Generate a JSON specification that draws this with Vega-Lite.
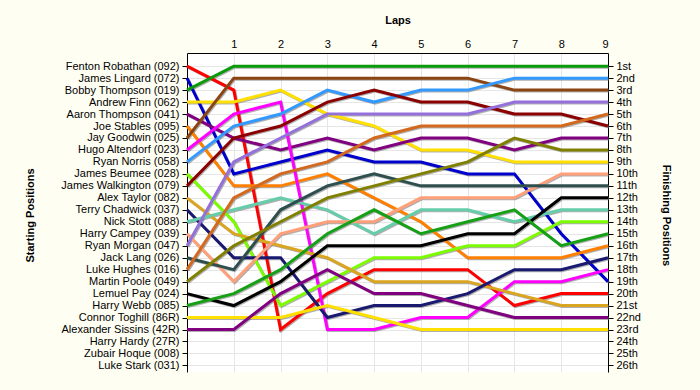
{
  "$schema": "https://vega.github.io/schema/vega-lite/v6.json",
  "width": 421,
  "height": 319,
  "autosize": {"type": "none"},
  "padding": {"left": 187, "top": 53, "right": 92, "bottom": 18},
  "background": "#fffef3",
  "view": {"fill": "white", "stroke": null},
  "config": {
    "font": "Liberation Sans",
    "axis": {"labelFont": "Liberation Sans", "labelFontSize": 11, "labelColor": "#000000", "titleFont": "Liberation Sans", "titleFontSize": 11, "titleFontWeight": "bold", "titleColor": "#000000", "domainColor": "#000000", "tickColor": "#000000", "gridColor": "#e6e6e6"}
  },
  "data": {"values": [
    {"driver":"Fenton Robathan (092)","lap":0,"pos":1},{"driver":"Fenton Robathan (092)","lap":1,"pos":3},{"driver":"Fenton Robathan (092)","lap":2,"pos":23},{"driver":"Fenton Robathan (092)","lap":3,"pos":20},{"driver":"Fenton Robathan (092)","lap":4,"pos":18},{"driver":"Fenton Robathan (092)","lap":5,"pos":18},{"driver":"Fenton Robathan (092)","lap":6,"pos":18},{"driver":"Fenton Robathan (092)","lap":7,"pos":21},{"driver":"Fenton Robathan (092)","lap":8,"pos":20},{"driver":"Fenton Robathan (092)","lap":9,"pos":20},
    {"driver":"James Lingard (072)","lap":0,"pos":2},{"driver":"James Lingard (072)","lap":1,"pos":10},{"driver":"James Lingard (072)","lap":2,"pos":9},{"driver":"James Lingard (072)","lap":3,"pos":8},{"driver":"James Lingard (072)","lap":4,"pos":9},{"driver":"James Lingard (072)","lap":5,"pos":9},{"driver":"James Lingard (072)","lap":6,"pos":10},{"driver":"James Lingard (072)","lap":7,"pos":10},{"driver":"James Lingard (072)","lap":8,"pos":15},{"driver":"James Lingard (072)","lap":9,"pos":19},
    {"driver":"Bobby Thompson (019)","lap":0,"pos":3},{"driver":"Bobby Thompson (019)","lap":1,"pos":1},{"driver":"Bobby Thompson (019)","lap":2,"pos":1},{"driver":"Bobby Thompson (019)","lap":3,"pos":1},{"driver":"Bobby Thompson (019)","lap":4,"pos":1},{"driver":"Bobby Thompson (019)","lap":5,"pos":1},{"driver":"Bobby Thompson (019)","lap":6,"pos":1},{"driver":"Bobby Thompson (019)","lap":7,"pos":1},{"driver":"Bobby Thompson (019)","lap":8,"pos":1},{"driver":"Bobby Thompson (019)","lap":9,"pos":1},
    {"driver":"Andrew Finn (062)","lap":0,"pos":4},{"driver":"Andrew Finn (062)","lap":1,"pos":4},{"driver":"Andrew Finn (062)","lap":2,"pos":3},{"driver":"Andrew Finn (062)","lap":3,"pos":5},{"driver":"Andrew Finn (062)","lap":4,"pos":6},{"driver":"Andrew Finn (062)","lap":5,"pos":8},{"driver":"Andrew Finn (062)","lap":6,"pos":8},{"driver":"Andrew Finn (062)","lap":7,"pos":9},{"driver":"Andrew Finn (062)","lap":8,"pos":9},{"driver":"Andrew Finn (062)","lap":9,"pos":9},
    {"driver":"Aaron Thompson (041)","lap":0,"pos":5},{"driver":"Aaron Thompson (041)","lap":1,"pos":7},{"driver":"Aaron Thompson (041)","lap":2,"pos":8},{"driver":"Aaron Thompson (041)","lap":3,"pos":7},{"driver":"Aaron Thompson (041)","lap":4,"pos":8},{"driver":"Aaron Thompson (041)","lap":5,"pos":7},{"driver":"Aaron Thompson (041)","lap":6,"pos":7},{"driver":"Aaron Thompson (041)","lap":7,"pos":8},{"driver":"Aaron Thompson (041)","lap":8,"pos":7},{"driver":"Aaron Thompson (041)","lap":9,"pos":7},
    {"driver":"Joe Stables (095)","lap":0,"pos":6},{"driver":"Joe Stables (095)","lap":1,"pos":11},{"driver":"Joe Stables (095)","lap":2,"pos":11},{"driver":"Joe Stables (095)","lap":3,"pos":10},{"driver":"Joe Stables (095)","lap":4,"pos":12},{"driver":"Joe Stables (095)","lap":5,"pos":14},{"driver":"Joe Stables (095)","lap":6,"pos":17},{"driver":"Joe Stables (095)","lap":7,"pos":17},{"driver":"Joe Stables (095)","lap":8,"pos":17},{"driver":"Joe Stables (095)","lap":9,"pos":16},
    {"driver":"Jay Goodwin (025)","lap":0,"pos":7},{"driver":"Jay Goodwin (025)","lap":1,"pos":2},{"driver":"Jay Goodwin (025)","lap":2,"pos":2},{"driver":"Jay Goodwin (025)","lap":3,"pos":2},{"driver":"Jay Goodwin (025)","lap":4,"pos":2},{"driver":"Jay Goodwin (025)","lap":5,"pos":2},{"driver":"Jay Goodwin (025)","lap":6,"pos":2},{"driver":"Jay Goodwin (025)","lap":7,"pos":3},{"driver":"Jay Goodwin (025)","lap":8,"pos":3},{"driver":"Jay Goodwin (025)","lap":9,"pos":3},
    {"driver":"Hugo Altendorf (023)","lap":0,"pos":8},{"driver":"Hugo Altendorf (023)","lap":1,"pos":5},{"driver":"Hugo Altendorf (023)","lap":2,"pos":4},{"driver":"Hugo Altendorf (023)","lap":3,"pos":23},{"driver":"Hugo Altendorf (023)","lap":4,"pos":23},{"driver":"Hugo Altendorf (023)","lap":5,"pos":22},{"driver":"Hugo Altendorf (023)","lap":6,"pos":22},{"driver":"Hugo Altendorf (023)","lap":7,"pos":19},{"driver":"Hugo Altendorf (023)","lap":8,"pos":19},{"driver":"Hugo Altendorf (023)","lap":9,"pos":18},
    {"driver":"Ryan Norris (058)","lap":0,"pos":9},{"driver":"Ryan Norris (058)","lap":1,"pos":6},{"driver":"Ryan Norris (058)","lap":2,"pos":5},{"driver":"Ryan Norris (058)","lap":3,"pos":3},{"driver":"Ryan Norris (058)","lap":4,"pos":4},{"driver":"Ryan Norris (058)","lap":5,"pos":3},{"driver":"Ryan Norris (058)","lap":6,"pos":3},{"driver":"Ryan Norris (058)","lap":7,"pos":2},{"driver":"Ryan Norris (058)","lap":8,"pos":2},{"driver":"Ryan Norris (058)","lap":9,"pos":2},
    {"driver":"James Beumee (028)","lap":0,"pos":10},{"driver":"James Beumee (028)","lap":1,"pos":14},{"driver":"James Beumee (028)","lap":2,"pos":21},{"driver":"James Beumee (028)","lap":3,"pos":19},{"driver":"James Beumee (028)","lap":4,"pos":17},{"driver":"James Beumee (028)","lap":5,"pos":17},{"driver":"James Beumee (028)","lap":6,"pos":16},{"driver":"James Beumee (028)","lap":7,"pos":16},{"driver":"James Beumee (028)","lap":8,"pos":14},{"driver":"James Beumee (028)","lap":9,"pos":14},
    {"driver":"James Walkington (079)","lap":0,"pos":11},{"driver":"James Walkington (079)","lap":1,"pos":7},{"driver":"James Walkington (079)","lap":2,"pos":6},{"driver":"James Walkington (079)","lap":3,"pos":4},{"driver":"James Walkington (079)","lap":4,"pos":3},{"driver":"James Walkington (079)","lap":5,"pos":4},{"driver":"James Walkington (079)","lap":6,"pos":4},{"driver":"James Walkington (079)","lap":7,"pos":5},{"driver":"James Walkington (079)","lap":8,"pos":5},{"driver":"James Walkington (079)","lap":9,"pos":6},
    {"driver":"Alex Taylor (082)","lap":0,"pos":12},{"driver":"Alex Taylor (082)","lap":1,"pos":15},{"driver":"Alex Taylor (082)","lap":2,"pos":16},{"driver":"Alex Taylor (082)","lap":3,"pos":17},{"driver":"Alex Taylor (082)","lap":4,"pos":19},{"driver":"Alex Taylor (082)","lap":5,"pos":19},{"driver":"Alex Taylor (082)","lap":6,"pos":19},{"driver":"Alex Taylor (082)","lap":7,"pos":20},{"driver":"Alex Taylor (082)","lap":8,"pos":21},{"driver":"Alex Taylor (082)","lap":9,"pos":21},
    {"driver":"Terry Chadwick (037)","lap":0,"pos":13},{"driver":"Terry Chadwick (037)","lap":1,"pos":17},{"driver":"Terry Chadwick (037)","lap":2,"pos":17},{"driver":"Terry Chadwick (037)","lap":3,"pos":22},{"driver":"Terry Chadwick (037)","lap":4,"pos":21},{"driver":"Terry Chadwick (037)","lap":5,"pos":21},{"driver":"Terry Chadwick (037)","lap":6,"pos":20},{"driver":"Terry Chadwick (037)","lap":7,"pos":18},{"driver":"Terry Chadwick (037)","lap":8,"pos":18},{"driver":"Terry Chadwick (037)","lap":9,"pos":17},
    {"driver":"Nick Stott (088)","lap":0,"pos":14},{"driver":"Nick Stott (088)","lap":1,"pos":13},{"driver":"Nick Stott (088)","lap":2,"pos":12},{"driver":"Nick Stott (088)","lap":3,"pos":13},{"driver":"Nick Stott (088)","lap":4,"pos":15},{"driver":"Nick Stott (088)","lap":5,"pos":13},{"driver":"Nick Stott (088)","lap":6,"pos":13},{"driver":"Nick Stott (088)","lap":7,"pos":14},{"driver":"Nick Stott (088)","lap":8,"pos":13},{"driver":"Nick Stott (088)","lap":9,"pos":13},
    {"driver":"Harry Campey (039)","lap":0,"pos":15},{"driver":"Harry Campey (039)","lap":1,"pos":19},{"driver":"Harry Campey (039)","lap":2,"pos":15},{"driver":"Harry Campey (039)","lap":3,"pos":14},{"driver":"Harry Campey (039)","lap":4,"pos":14},{"driver":"Harry Campey (039)","lap":5,"pos":12},{"driver":"Harry Campey (039)","lap":6,"pos":12},{"driver":"Harry Campey (039)","lap":7,"pos":12},{"driver":"Harry Campey (039)","lap":8,"pos":10},{"driver":"Harry Campey (039)","lap":9,"pos":10},
    {"driver":"Ryan Morgan (047)","lap":0,"pos":16},{"driver":"Ryan Morgan (047)","lap":1,"pos":9},{"driver":"Ryan Morgan (047)","lap":2,"pos":7},{"driver":"Ryan Morgan (047)","lap":3,"pos":5},{"driver":"Ryan Morgan (047)","lap":4,"pos":5},{"driver":"Ryan Morgan (047)","lap":5,"pos":5},{"driver":"Ryan Morgan (047)","lap":6,"pos":5},{"driver":"Ryan Morgan (047)","lap":7,"pos":4},{"driver":"Ryan Morgan (047)","lap":8,"pos":4},{"driver":"Ryan Morgan (047)","lap":9,"pos":4},
    {"driver":"Jack Lang (026)","lap":0,"pos":17},{"driver":"Jack Lang (026)","lap":1,"pos":18},{"driver":"Jack Lang (026)","lap":2,"pos":13},{"driver":"Jack Lang (026)","lap":3,"pos":11},{"driver":"Jack Lang (026)","lap":4,"pos":10},{"driver":"Jack Lang (026)","lap":5,"pos":11},{"driver":"Jack Lang (026)","lap":6,"pos":11},{"driver":"Jack Lang (026)","lap":7,"pos":11},{"driver":"Jack Lang (026)","lap":8,"pos":11},{"driver":"Jack Lang (026)","lap":9,"pos":11},
    {"driver":"Luke Hughes (016)","lap":0,"pos":18},{"driver":"Luke Hughes (016)","lap":1,"pos":12},{"driver":"Luke Hughes (016)","lap":2,"pos":10},{"driver":"Luke Hughes (016)","lap":3,"pos":9},{"driver":"Luke Hughes (016)","lap":4,"pos":7},{"driver":"Luke Hughes (016)","lap":5,"pos":6},{"driver":"Luke Hughes (016)","lap":6,"pos":6},{"driver":"Luke Hughes (016)","lap":7,"pos":6},{"driver":"Luke Hughes (016)","lap":8,"pos":6},{"driver":"Luke Hughes (016)","lap":9,"pos":5},
    {"driver":"Martin Poole (049)","lap":0,"pos":19},{"driver":"Martin Poole (049)","lap":1,"pos":16},{"driver":"Martin Poole (049)","lap":2,"pos":14},{"driver":"Martin Poole (049)","lap":3,"pos":12},{"driver":"Martin Poole (049)","lap":4,"pos":11},{"driver":"Martin Poole (049)","lap":5,"pos":10},{"driver":"Martin Poole (049)","lap":6,"pos":9},{"driver":"Martin Poole (049)","lap":7,"pos":7},{"driver":"Martin Poole (049)","lap":8,"pos":8},{"driver":"Martin Poole (049)","lap":9,"pos":8},
    {"driver":"Lemuel Pay (024)","lap":0,"pos":20},{"driver":"Lemuel Pay (024)","lap":1,"pos":21},{"driver":"Lemuel Pay (024)","lap":2,"pos":19},{"driver":"Lemuel Pay (024)","lap":3,"pos":16},{"driver":"Lemuel Pay (024)","lap":4,"pos":16},{"driver":"Lemuel Pay (024)","lap":5,"pos":16},{"driver":"Lemuel Pay (024)","lap":6,"pos":15},{"driver":"Lemuel Pay (024)","lap":7,"pos":15},{"driver":"Lemuel Pay (024)","lap":8,"pos":12},{"driver":"Lemuel Pay (024)","lap":9,"pos":12},
    {"driver":"Harry Webb (085)","lap":0,"pos":21},{"driver":"Harry Webb (085)","lap":1,"pos":20},{"driver":"Harry Webb (085)","lap":2,"pos":18},{"driver":"Harry Webb (085)","lap":3,"pos":15},{"driver":"Harry Webb (085)","lap":4,"pos":13},{"driver":"Harry Webb (085)","lap":5,"pos":15},{"driver":"Harry Webb (085)","lap":6,"pos":14},{"driver":"Harry Webb (085)","lap":7,"pos":13},{"driver":"Harry Webb (085)","lap":8,"pos":16},{"driver":"Harry Webb (085)","lap":9,"pos":15},
    {"driver":"Connor Toghill (86R)","lap":0,"pos":22},{"driver":"Connor Toghill (86R)","lap":1,"pos":22},{"driver":"Connor Toghill (86R)","lap":2,"pos":22},{"driver":"Connor Toghill (86R)","lap":3,"pos":21},{"driver":"Connor Toghill (86R)","lap":4,"pos":22},{"driver":"Connor Toghill (86R)","lap":5,"pos":23},{"driver":"Connor Toghill (86R)","lap":6,"pos":23},{"driver":"Connor Toghill (86R)","lap":7,"pos":23},{"driver":"Connor Toghill (86R)","lap":8,"pos":23},{"driver":"Connor Toghill (86R)","lap":9,"pos":23},
    {"driver":"Alexander Sissins (42R)","lap":0,"pos":23},{"driver":"Alexander Sissins (42R)","lap":1,"pos":23},{"driver":"Alexander Sissins (42R)","lap":2,"pos":20},{"driver":"Alexander Sissins (42R)","lap":3,"pos":18},{"driver":"Alexander Sissins (42R)","lap":4,"pos":20},{"driver":"Alexander Sissins (42R)","lap":5,"pos":20},{"driver":"Alexander Sissins (42R)","lap":6,"pos":21},{"driver":"Alexander Sissins (42R)","lap":7,"pos":22},{"driver":"Alexander Sissins (42R)","lap":8,"pos":22},{"driver":"Alexander Sissins (42R)","lap":9,"pos":22}
  ]},
  "encoding": {
    "x": {"field": "lap", "type": "quantitative", "scale": {"domain": [0, 9], "nice": false, "zero": false},
      "axis": {"orient": "top", "values": [1,2,3,4,5,6,7,8,9], "format": "d", "ticks": false, "grid": true, "labelPadding": 4, "labelAngle": 0, "title": "Laps", "titlePadding": 13}},
    "y": {"field": "pos", "type": "quantitative", "scale": {"domain": [-0.1, 26.55], "reverse": true, "nice": false, "zero": false}}
  },
  "layer": [
    {
      "mark": {"type": "line", "color": "#6e6e6e", "strokeWidth": 3, "opacity": 0.55, "xOffset": 1, "yOffset": 1},
      "encoding": {
        "detail": {"field": "driver"},
        "order": {"field": "lap"},
        "y": {"field": "pos", "type": "quantitative", "scale": {"domain": [-0.1, 26.55], "reverse": true, "nice": false, "zero": false},
          "axis": {"orient": "left", "values": [1,2,3,4,5,6,7,8,9,10,11,12,13,14,15,16,17,18,19,20,21,22,23,24,25,26],
            "labelExpr": "['Fenton Robathan (092)','James Lingard (072)','Bobby Thompson (019)','Andrew Finn (062)','Aaron Thompson (041)','Joe Stables (095)','Jay Goodwin (025)','Hugo Altendorf (023)','Ryan Norris (058)','James Beumee (028)','James Walkington (079)','Alex Taylor (082)','Terry Chadwick (037)','Nick Stott (088)','Harry Campey (039)','Ryan Morgan (047)','Jack Lang (026)','Luke Hughes (016)','Martin Poole (049)','Lemuel Pay (024)','Harry Webb (085)','Connor Toghill (86R)','Alexander Sissins (42R)','Harry Hardy (27R)','Zubair Hoque (008)','Luke Stark (031)'][datum.value - 1]",
            "tickSize": 5, "labelPadding": 3, "grid": true, "title": "Starting Positions", "titleAngle": 270, "titleX": -157, "titleY": 162, "titleAlign": "center", "titleBaseline": "middle"}}
      }
    },
    {
      "mark": {"type": "line", "strokeWidth": 3},
      "encoding": {
        "order": {"field": "lap"},
        "color": {"field": "driver", "type": "nominal", "legend": null,
          "scale": {"domain": ["Fenton Robathan (092)","James Lingard (072)","Bobby Thompson (019)","Andrew Finn (062)","Aaron Thompson (041)","Joe Stables (095)","Jay Goodwin (025)","Hugo Altendorf (023)","Ryan Norris (058)","James Beumee (028)","James Walkington (079)","Alex Taylor (082)","Terry Chadwick (037)","Nick Stott (088)","Harry Campey (039)","Ryan Morgan (047)","Jack Lang (026)","Luke Hughes (016)","Martin Poole (049)","Lemuel Pay (024)","Harry Webb (085)","Connor Toghill (86R)","Alexander Sissins (42R)"],
            "range": ["#ff0000","#0000cc","#0a9a0a","#ffe000","#800080","#ff8000","#8b4513","#ff00ff","#3399ff","#7cfc00","#8b0000","#daa520","#191970","#66cdaa","#ffa07a","#9370db","#2f4f4f","#d2691e","#808000","#000000","#16a016","#ffe000","#800080"]}},
        "y": {"field": "pos", "type": "quantitative", "scale": {"domain": [-0.1, 26.55], "reverse": true, "nice": false, "zero": false},
          "axis": {"orient": "right", "values": [1,2,3,4,5,6,7,8,9,10,11,12,13,14,15,16,17,18,19,20,21,22,23,24,25,26],
            "labelExpr": "datum.value + ((datum.value % 10 == 1 && datum.value != 11) ? 'st' : (datum.value % 10 == 2 && datum.value != 12) ? 'nd' : (datum.value % 10 == 3 && datum.value != 13) ? 'rd' : 'th')",
            "tickSize": 5, "labelPadding": 3, "grid": false, "title": "Finishing Positions", "titleAngle": 90, "titleX": 57, "titleY": 162, "titleAlign": "center", "titleBaseline": "middle"}}
      }
    }
  ],
  "resolve": {"axis": {"y": "independent"}}
}
